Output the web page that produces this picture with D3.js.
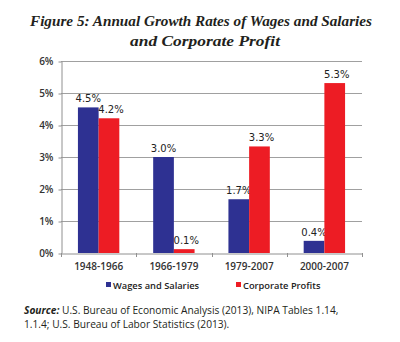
<!DOCTYPE html>
<html><head><meta charset="utf-8">
<script src="https://cdn.jsdelivr.net/npm/d3@7"></script>
<style>body{margin:0;background:#fff}svg{display:block}</style>
</head><body>
<svg id="c" width="400" height="342"></svg>
<script>
const categories = ["1948-1966","1966-1979","1979-2007","2000-2007"];
const seriesNames = ["Wages and Salaries","Corporate Profits"];
const wages = [4.55, 3.0, 1.68, 0.38];
const profits = [4.21, 0.12, 3.33, 5.31];
const wageLabels = ["4.5%","3.0%","1.7%","0.4%"];
const profitLabels = ["4.2%","0.1%","3.3%","5.3%"];
const yTicks = [0,1,2,3,4,5,6];
const colors = ["#2e3192","#ed1c24"];

const svg = d3.select("#c");
const L = 61, R = 362, T = 61, B = 253;
const x = d3.scaleBand().domain(categories).range([L,R]).paddingInner(0.45).paddingOuter(0.225);
const xs = d3.scaleBand().domain(seriesNames).range([0,x.bandwidth()]);
const y = d3.scaleLinear().domain([0,6]).range([B,T]);

// title
const title = svg.append("g").attr("font-family","'Liberation Serif',serif").attr("font-style","italic").attr("font-weight","bold").attr("font-size",15).attr("fill","#231f20");
title.append("text").attr("x",30).attr("y",26).attr("textLength",342).attr("lengthAdjust","spacingAndGlyphs").text("Figure 5: Annual Growth Rates of Wages and Salaries");
title.append("text").attr("x",130).attr("y",46).attr("textLength",150).attr("lengthAdjust","spacingAndGlyphs").text("and Corporate Profit");

// gridlines
svg.append("g").selectAll("line").data(yTicks.slice(1)).join("line")
  .attr("x1",L).attr("x2",R).attr("y1",d=>y(d)+0.5).attr("y2",d=>y(d)+0.5)
  .attr("stroke","#a0a0a0").attr("stroke-width",1);

// y axis
const ya = svg.append("g").attr("transform",`translate(${L+0.5},0)`)
  .call(d3.axisLeft(y).tickValues(yTicks).tickFormat(d=>d+"%").tickSize(3).tickSizeOuter(0));
ya.select(".domain").attr("stroke","#909090");
ya.selectAll(".tick line").attr("stroke","#909090").attr("transform","translate(0,0.5)");
ya.selectAll("text").attr("font-family","'Open Sans',sans-serif").attr("font-weight",600).attr("font-size",10).attr("fill","#333").attr("x",-8);

// x axis
const xa = svg.append("g").attr("transform",`translate(0,${B+0.5})`)
  .call(d3.axisBottom(x).tickSize(0).tickSizeOuter(0));
xa.select(".domain").attr("stroke","#909090");
xa.selectAll("text").attr("font-family","'Open Sans',sans-serif").attr("font-weight",600).attr("font-size",10).attr("fill","#333").attr("dy",0).attr("y",16);
const bounds = categories.map(c=>x(c)-x.step()*x.paddingInner()/2).concat([R]);
svg.append("g").selectAll("line").data(bounds).join("line")
  .attr("x1",d=>Math.round(d)+0.5).attr("x2",d=>Math.round(d)+0.5).attr("y1",B).attr("y2",B+4)
  .attr("stroke","#909090");

// bars
const rows = categories.map((c,i)=>({c, vals:[wages[i],profits[i]], labs:[wageLabels[i],profitLabels[i]]}));
const g = svg.append("g");
rows.forEach(r=>{
  seriesNames.forEach((s,j)=>{
    g.append("rect").attr("x",x(r.c)+xs(s)).attr("width",xs.bandwidth())
      .attr("y",y(r.vals[j])).attr("height",B-y(r.vals[j])).attr("fill",colors[j]);
    g.append("text").attr("x",x(r.c)+xs(s)+xs.bandwidth()/2+(j?2:0)).attr("y",y(r.vals[j])-5)
      .attr("text-anchor","middle").attr("font-family","'DejaVu Sans',sans-serif").attr("font-size",10)
      .attr("fill","#222").text(r.labs[j]);
  });
});

// legend
const lg = svg.append("g").attr("font-family","'Open Sans',sans-serif").attr("font-weight",600).attr("font-size",9.3).attr("fill","#222");
const lx = [106,236];
seriesNames.forEach((s,j)=>{
  lg.append("rect").attr("x",lx[j]).attr("y",282).attr("width",5).attr("height",5).attr("fill",colors[j]);
  lg.append("text").attr("x",lx[j]+7).attr("y",288.5).text(s);
});

// source
const src = svg.append("g").attr("font-family","'Open Sans',sans-serif").attr("font-size",10.2).attr("fill","#231f20");
const t1 = src.append("text").attr("x",24).attr("y",314);
t1.append("tspan").attr("font-weight","bold").attr("font-style","italic").text("Source:");
t1.append("tspan").text(" U.S. Bureau of Economic Analysis (2013), NIPA Tables 1.14,");
src.append("text").attr("x",24).attr("y",328).text("1.1.4; U.S. Bureau of Labor Statistics (2013).");
</script>
</body></html>
